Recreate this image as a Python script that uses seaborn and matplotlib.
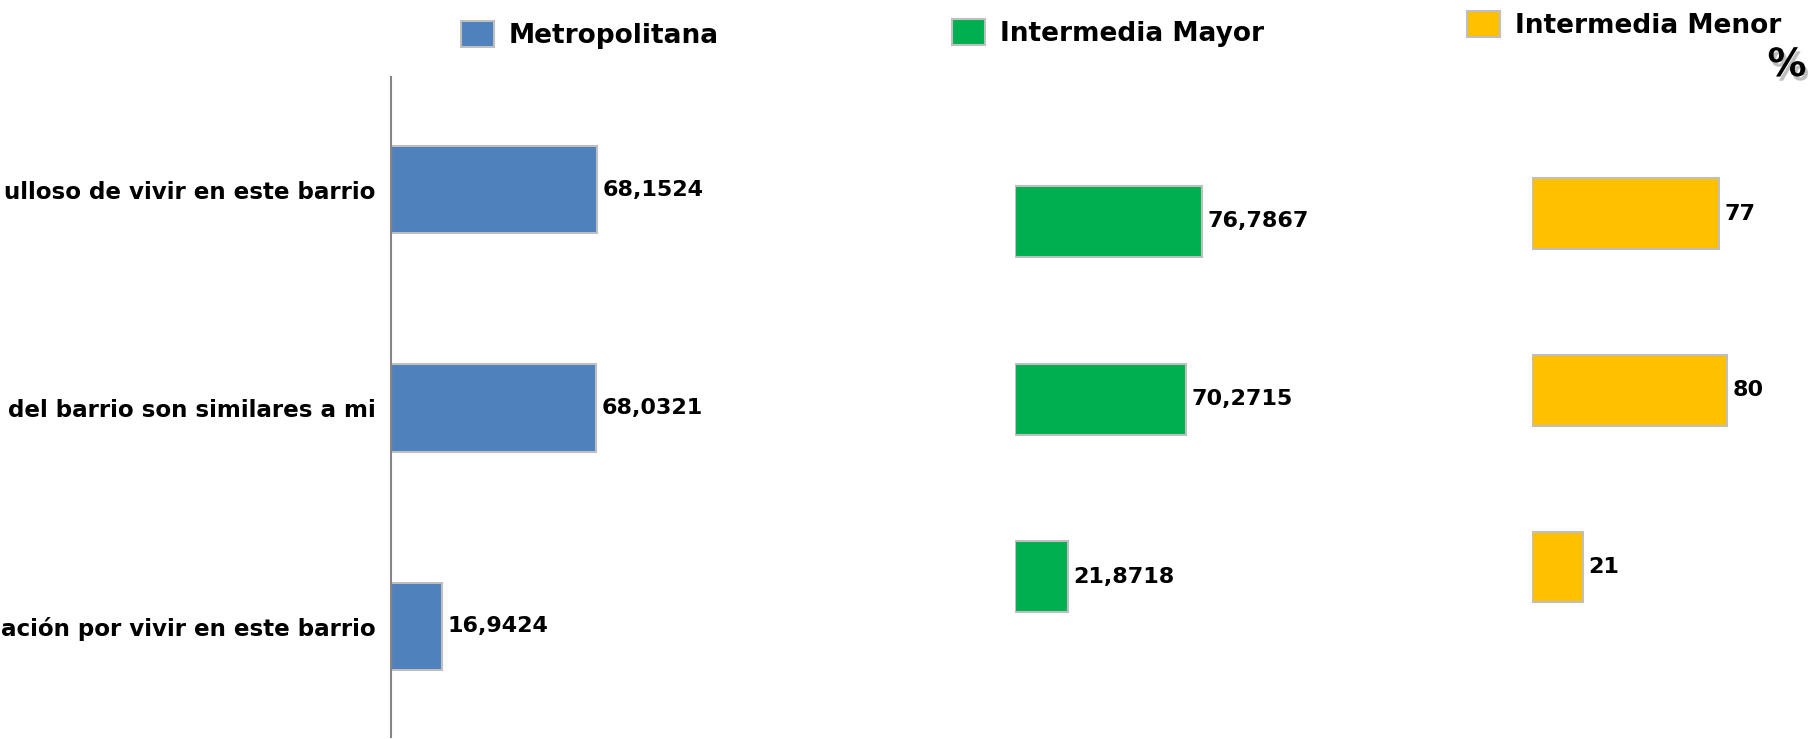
import matplotlib
matplotlib.use("Agg")
import matplotlib.pyplot as plt
import matplotlib.patheffects as pe
import seaborn as sns
import pandas as pd

# ---- data ----
# category labels as visible in the reference (cut at the left edge of the original)
categories = [
    "ulloso de vivir en este barrio",
    "del barrio son similares a mi",
    "ación por vivir en este barrio",
]
metropolitana = [68.1524, 68.0321, 16.9424]
intermedia_mayor = [76.7867, 70.2715, 21.8718]
intermedia_menor = [77, 80, 21]
series_names = ["Metropolitana", "Intermedia Mayor", "Intermedia Menor"]
series_colors = ["#4F81BD", "#00B050", "#FFC000"]

sns.set_theme(style="white")
plt.rcParams["font.family"] = ["DejaVu Sans"]

W, H = 1814, 739
fig = plt.figure(figsize=(W / 100, H / 100), dpi=100)

EDGE = "#BFBFBF"


def fmt(v):
    if float(v).is_integer():
        return str(int(v))
    return f"{v:.4f}".replace(".", ",")


# axes geometry in pixels: (left, top, right, bottom), ylim, xmax
panels = [
    dict(vals=metropolitana, box=(391, 77, 731, 737), ylim=(2.506, -0.515), xmax=112.6),
    dict(vals=intermedia_mayor, box=(1015, 132.75, 1315, 665.25), ylim=(2.5, -0.5), xmax=123.5),
    dict(vals=intermedia_menor, box=(1531.5, 125.5, 1814, 655.3), ylim=(2.5, -0.5), xmax=115.8),
]
legend_pos = [(461, 35), (952, 33), (1467, 25)]

for i, p in enumerate(panels):
    l, t, r, b = p["box"]
    ax = fig.add_axes([l / W, 1 - b / H, (r - l) / W, (b - t) / H])
    df = pd.DataFrame({"cat": categories, "val": p["vals"]})
    sns.barplot(data=df, x="val", y="cat", orient="h", color=series_colors[i],
                saturation=1, width=0.4, edgecolor=EDGE, linewidth=1.5, ax=ax)
    ax.set_xlim(0, p["xmax"])
    ax.set_ylim(*p["ylim"])
    ax.set_xlabel("")
    ax.set_ylabel("")
    ax.set_xticks([])
    for s in ["top", "right", "bottom"]:
        ax.spines[s].set_visible(False)
    if i == 0:
        ax.spines["left"].set_color("#868686")
        ax.spines["left"].set_linewidth(1.5)
        ax.tick_params(axis="y", length=0, pad=11)
        for lab in ax.get_yticklabels():
            lab.set_fontweight("bold")
            lab.set_fontsize(16.6)
            lab.set_color("black")
    else:
        ax.spines["left"].set_visible(False)
        ax.set_yticks([])
    ax.patch.set_alpha(0)
    ax.bar_label(ax.containers[0], labels=[fmt(v) for v in p["vals"]],
                 padding=4, fontsize=16, fontweight="bold", color="black")
    # legend
    lx, ly = legend_pos[i]
    leg = ax.legend(handles=[ax.patches[0]], labels=[series_names[i]],
                    loc="center left", bbox_to_anchor=(lx / W, 1 - ly / H),
                    bbox_transform=fig.transFigure, frameon=False, borderpad=0,
                    borderaxespad=0, handlelength=1.25, handleheight=1.1,
                    handletextpad=0.57, prop=dict(weight="bold", size=19))
    for txt in leg.get_texts():
        txt.set_color("black")

fig.text(1787 / W, 1 - 65 / H, "%", ha="center", va="center", fontsize=28,
         fontweight="bold", color="black",
         path_effects=[pe.withSimplePatchShadow(offset=(2, -3), shadow_rgbFace="gray", alpha=0.5)])

fig.savefig("out.png", dpi=100)
